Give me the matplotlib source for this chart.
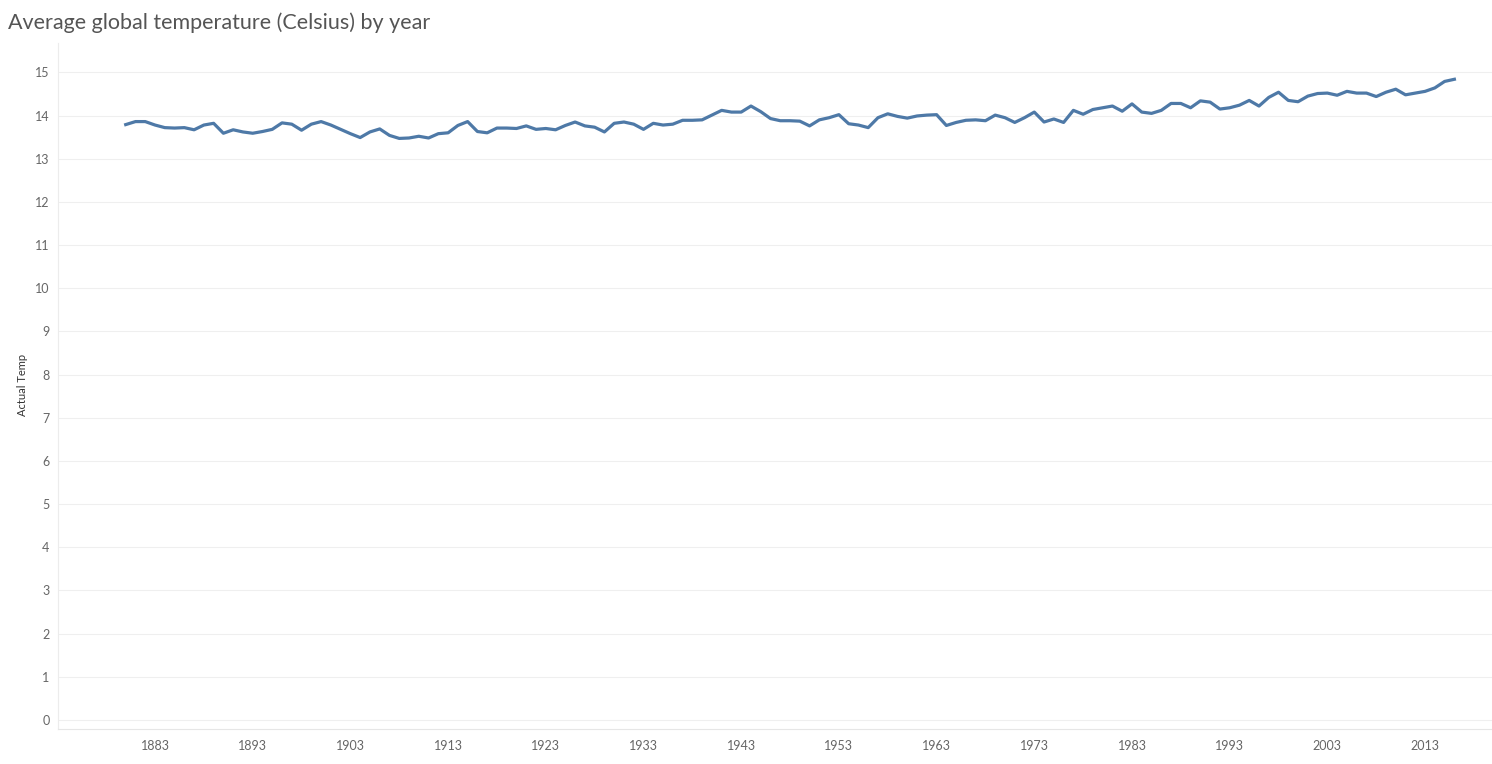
import matplotlib
matplotlib.use("Agg")
import matplotlib.pyplot as plt
import numpy as np

years = list(range(1880, 2017))
temps = [
    13.79, 13.86, 13.86, 13.78, 13.72, 13.71, 13.72, 13.67, 13.78, 13.82,
    13.59, 13.67, 13.62, 13.59, 13.63, 13.68, 13.83, 13.80, 13.66, 13.80,
    13.86, 13.78, 13.68, 13.58, 13.49, 13.62, 13.69, 13.54, 13.47, 13.48,
    13.52, 13.48, 13.58, 13.60, 13.77, 13.86, 13.63, 13.60, 13.71, 13.71,
    13.70, 13.76, 13.68, 13.70, 13.67, 13.77, 13.85, 13.76, 13.73, 13.62,
    13.82, 13.85, 13.80, 13.68, 13.82, 13.78, 13.80, 13.89, 13.89, 13.90,
    14.01, 14.12, 14.08, 14.08, 14.22, 14.09, 13.93, 13.88, 13.88, 13.87,
    13.76, 13.90, 13.95, 14.02, 13.81, 13.78, 13.72, 13.95, 14.04, 13.98,
    13.94, 13.99, 14.01, 14.02, 13.77, 13.84, 13.89, 13.90, 13.88, 14.01,
    13.95, 13.84, 13.95, 14.08, 13.85, 13.92, 13.84, 14.12, 14.03, 14.14,
    14.18, 14.22, 14.10, 14.27, 14.08, 14.05, 14.12, 14.28, 14.28, 14.18,
    14.34, 14.31, 14.15, 14.18, 14.24, 14.35, 14.22, 14.42, 14.54, 14.35,
    14.32, 14.45, 14.51, 14.52, 14.47, 14.56, 14.52, 14.52, 14.44, 14.54,
    14.61, 14.48, 14.52, 14.56, 14.64, 14.79, 14.84,
]
xtick_years = list(range(1883, 2014, 10))
ytick_vals = list(range(0, 16))

title = "Average global temperature (Celsius) by year"
ylabel = "Actual Temp"

W, H = 1492, 764
fig = plt.figure(figsize=(W / 100, H / 100), dpi=100)
fig.patch.set_facecolor("white")
ax = fig.add_axes([58 / W, (H - 729) / H, 1 - 58 / W, (729 - 43) / H])

ax.plot(years, temps, color="#4e79a7", linewidth=2.3, solid_joinstyle="round", zorder=3)

ax.set_xlim(1873.07, 2019.85)
ax.set_ylim(-0.208, 15.68)
ax.set_xticks(xtick_years)
ax.set_yticks(ytick_vals)
ax.tick_params(axis="both", length=0, colors="#666666", labelsize=9)
ax.tick_params(axis="y", pad=6)
ax.tick_params(axis="x", pad=8)
for lab in ax.get_xticklabels() + ax.get_yticklabels():
    lab.set_family("Lato")

ax.grid(axis="y", color="#efefef", linewidth=0.8, zorder=0)
ax.grid(axis="x", visible=False)
for side in ["top", "right"]:
    ax.spines[side].set_visible(False)
ax.spines["left"].set_color("#ececec")
ax.spines["bottom"].set_color("#e6e6e6")
ax.spines["left"].set_linewidth(0.8)
ax.spines["bottom"].set_linewidth(0.8)

fig.text(22 / W, 1 - 385 / H, ylabel, rotation=90, ha="center", va="center",
         fontsize=8, color="#333333", family="Lato")
fig.text(8 / W, 1 - 23 / H, title, ha="left", va="center",
         fontsize=15.5, color="#555555", family="Lato", fontweight="normal")

fig.savefig("out.png", dpi=100, facecolor="white")
